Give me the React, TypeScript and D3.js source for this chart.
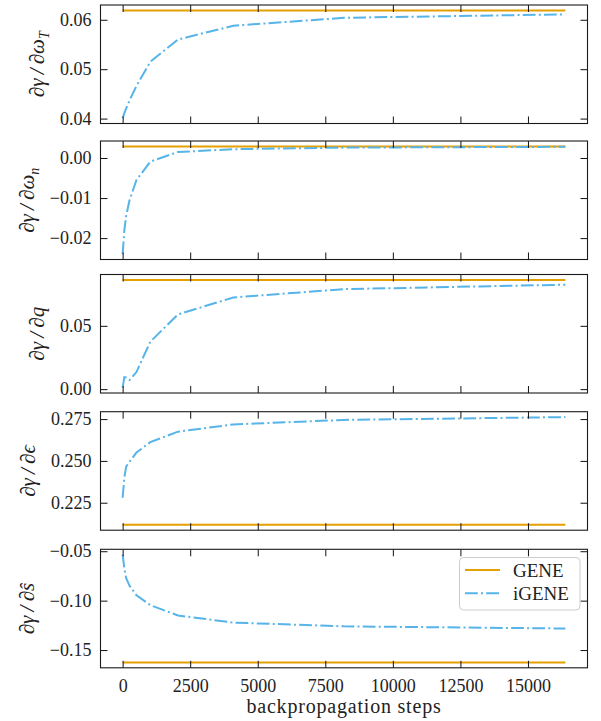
import React, { useEffect, useRef } from "react";
import * as d3 from "d3";

// backpropagation steps at which iGENE gradients were evaluated
const steps = [0, 64, 128, 256, 512, 1024, 2048, 4096, 8192, 16384];

const igeneOmegaT = [0.0401, 0.0411, 0.042, 0.0437, 0.0466, 0.0515, 0.056, 0.0588, 0.0604, 0.0611];
const igeneOmegaN = [-0.024, -0.018, -0.0145, -0.0105, -0.0055, -0.0009, 0.0015, 0.0022, 0.0026, 0.0028];
const igeneQ = [0.0012, 0.0095, 0.0092, 0.0072, 0.0135, 0.0375, 0.059, 0.0724, 0.079, 0.0825];
const igeneEps = [0.228, 0.24, 0.2465, 0.2495, 0.255, 0.2612, 0.2675, 0.2718, 0.2745, 0.2762];
const igeneShat = [-0.0535, -0.0675, -0.077, -0.085, -0.0945, -0.1045, -0.115, -0.1222, -0.126, -0.1282];

// GENE reference gradients (constant)
const geneValues = [0.0619, 0.0029, 0.0863, 0.2118, -0.1625];

const yTicks = [
  [0.04, 0.05, 0.06],
  [-0.02, -0.01, 0],
  [0, 0.05],
  [0.225, 0.25, 0.275],
  [-0.15, -0.1, -0.05],
];
const yFormats = [".2f", ".2f", ".2f", ".3f", ".2f"];
const xTicks = [0, 2500, 5000, 7500, 10000, 12500, 15000];
const yLabelSymbols = ["ω", "ω", "q", "ϵ", "ŝ"];
const yLabelSubs = ["T", "n", "", "", ""];

const igeneSeries = [igeneOmegaT, igeneOmegaN, igeneQ, igeneEps, igeneShat];

const GENE_COLOR = "#E69F00";
const IGENE_COLOR = "#56B4E9";
const FONT = "'Liberation Serif', 'DejaVu Serif', serif";

const App = () => {
  const svgRef = useRef<SVGSVGElement>(null);

  useEffect(() => {
    const width = 601;
    const height = 721;
    const left = 100.5;
    const right = 587.5;
    const panelTops = [5, 141, 274.5, 411.7, 549.3];
    const panelH = 118.5;
    const tickLen = 7;

    const svg = d3.select(svgRef.current).attr("width", width).attr("height", height);
    svg.selectAll("*").remove();

    const xMax = d3.max(steps) as number;
    const x = d3
      .scaleLinear()
      .domain([-0.05 * xMax, 1.05 * xMax])
      .range([left, right]);

    igeneSeries.forEach((series, i) => {
      const top = panelTops[i];
      const bottom = top + panelH;
      const gene = geneValues[i];
      const [lo, hi] = d3.extent([...series, gene]) as [number, number];
      const pad = (hi - lo) * 0.05;
      const y = d3
        .scaleLinear()
        .domain([lo - pad, hi + pad])
        .range([bottom, top]);

      const g = svg.append("g");

      const line = d3
        .line<[number, number]>()
        .x((d) => x(d[0]))
        .y((d) => y(d[1]));

      g.append("path")
        .datum([[0, gene], [xMax, gene]] as [number, number][])
        .attr("fill", "none")
        .attr("stroke", GENE_COLOR)
        .attr("stroke-width", 2)
        .attr("d", line);

      g.append("path")
        .datum(steps.map((s, j) => [s, series[j]] as [number, number]))
        .attr("fill", "none")
        .attr("stroke", IGENE_COLOR)
        .attr("stroke-width", 2)
        .attr("stroke-dasharray", "12.8,3.2,2,3.2")
        .attr("d", line);

      // inward ticks on all four sides
      const fmt = d3.format(yFormats[i]);
      const leftAxis = g
        .append("g")
        .attr("transform", `translate(${left},0)`)
        .call(
          d3.axisLeft(y).tickValues(yTicks[i]).tickSize(-tickLen).tickSizeOuter(0).tickPadding(9).tickFormat((d) => fmt(d as number))
        );
      g.append("g")
        .attr("transform", `translate(${right},0)`)
        .call(d3.axisRight(y).tickValues(yTicks[i]).tickSize(-tickLen).tickSizeOuter(0).tickFormat(() => ""));
      g.append("g")
        .attr("transform", `translate(0,${top})`)
        .call(d3.axisTop(x).tickValues(xTicks).tickSize(-tickLen).tickSizeOuter(0).tickFormat(() => ""));
      const isLast = i === igeneSeries.length - 1;
      g.append("g")
        .attr("transform", `translate(0,${bottom})`)
        .call(
          d3.axisBottom(x).tickValues(xTicks).tickSize(-tickLen).tickSizeOuter(0).tickPadding(11)
            .tickFormat((d) => (isLast ? String(d) : ""))
        );

      g.selectAll(".domain").remove();
      g.selectAll(".tick line").attr("stroke", "#111").attr("stroke-width", 1);
      g.selectAll(".tick text")
        .attr("fill", "#222")
        .style("font-family", FONT)
        .style("font-size", "18px");

      g.append("rect")
        .attr("x", left)
        .attr("y", top)
        .attr("width", right - left)
        .attr("height", panelH)
        .attr("fill", "none")
        .attr("stroke", "#1a1a1a")
        .attr("stroke-width", 1.1);

      // y label placed left of the tick labels (bbox is in the axis group's own coords)
      const bbox = (leftAxis.node() as SVGGElement).getBBox();
      const lx = left + bbox.x - 16;
      const label = g
        .append("text")
        .attr("transform", `translate(${lx},${(top + bottom) / 2}) rotate(-90)`)
        .attr("text-anchor", "middle")
        .attr("fill", "#222")
        .style("font-family", FONT)
        .style("font-size", "21px")
        .style("font-style", "italic");
      label.append("tspan").text(`∂γ\u2009/\u2009∂${yLabelSymbols[i]}`);
      if (yLabelSubs[i]) {
        label.append("tspan").attr("dy", 5).style("font-size", "14px").text(yLabelSubs[i]);
      }
    });

    // x label
    svg
      .append("text")
      .attr("x", (left + right) / 2)
      .attr("y", 713)
      .attr("text-anchor", "middle")
      .attr("fill", "#222")
      .style("font-family", FONT)
      .style("font-size", "20px")
      .style("letter-spacing", "0.8px")
      .text("backpropagation steps");

    // legend in last panel
    const legend = svg.append("g");
    legend
      .append("rect")
      .attr("x", 459.5)
      .attr("y", 557.5)
      .attr("width", 120.5)
      .attr("height", 52.5)
      .attr("rx", 4)
      .attr("fill", "white")
      .attr("fill-opacity", 0.8)
      .attr("stroke", "#cccccc")
      .attr("stroke-width", 1);
    const entries = [
      { name: "GENE", color: GENE_COLOR, dash: null as string | null },
      { name: "iGENE", color: IGENE_COLOR, dash: "12.8,3.2,2,3.2" },
    ];
    entries.forEach((e, k) => {
      const ly = 570 + k * 23.3;
      legend
        .append("line")
        .attr("x1", 465)
        .attr("x2", 500)
        .attr("y1", ly)
        .attr("y2", ly)
        .attr("stroke", e.color)
        .attr("stroke-width", 2)
        .attr("stroke-dasharray", e.dash);
      legend
        .append("text")
        .attr("x", 513)
        .attr("y", ly)
        .attr("dy", "0.35em")
        .attr("fill", "#222")
        .style("font-family", FONT)
        .style("font-size", "19px")
        .text(e.name);
    });
  }, []);

  return (
    <div style={{ position: "absolute", left: 0, top: 0 }}>
      <svg ref={svgRef}></svg>
    </div>
  );
};

export default App;
